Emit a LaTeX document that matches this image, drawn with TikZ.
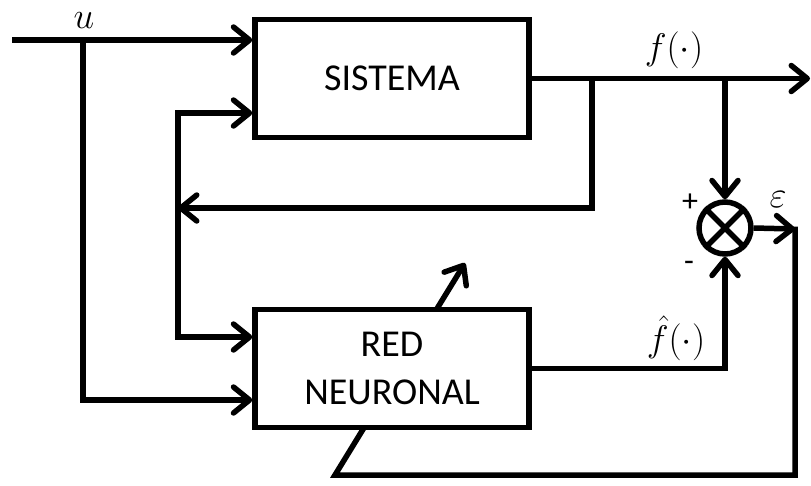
\RequirePackage{fix-cm}
\documentclass[tikz,border=0pt]{standalone}
\usepackage{fontspec}
\setmainfont{Carlito}
\usetikzlibrary{arrows.meta}
\tikzset{
  wire/.style={line width=5.5pt},
  arr/.style={wire, -{Straight Barb[length=16pt,width=26pt,line cap=round,line join=round]}},
  blockbox/.style={draw, line width=5.5pt, fill=white, minimum width=274pt, minimum height=118pt,
    inner sep=0pt, align=center, font=\fontsize{38}{48}\selectfont},
  sumnode/.style={draw, circle, line width=5.5pt, minimum size=52pt, inner sep=0pt},
  mlabel/.style={inner sep=0pt, font=\fontsize{37}{40}\selectfont},
  signlabel/.style={inner sep=0pt, font=\fontsize{32}{36}\selectfont},
}
\begin{document}
\begin{tikzpicture}[x=1pt,y=-1pt]
\useasboundingbox (0,0) rectangle (811,485);
% nodes
\node[blockbox] (sis) at (392,78.5) {SISTEMA};
\node[sumnode] (sum) at (725,228) {};
\draw[line width=5.5pt] (sum.north east) -- (sum.south west);
\draw[line width=5.5pt] (sum.north west) -- (sum.south east);
% coordinates
\coordinate (in) at (12,40);
\coordinate (ub) at (83,40);
\coordinate (uin) at (83,400);
\coordinate (out) at (810,78.5);
\coordinate (b1) at (592,78.5);
\coordinate (b2) at (725,78.5);
\coordinate (fbmid) at (178,208);
\coordinate (fbtop) at (178,113);
\coordinate (fbbot) at (178,337);
\coordinate (c1) at (795,229);
\coordinate (c1a) at (795,226.5);
\coordinate (c2) at (795,475);
\coordinate (c3) at (335,475);
\coordinate (c4) at (465,263);
% adaptation loop (drawn under the neural network block)
\draw[arr] (sum.east) -- (c1);
\draw[arr] (c1a) -- (c2) -- (c3) -- (c4);
\node[blockbox] (red) at (392,368.5) {RED\\NEURONAL};
% connectors
\draw[arr] (in) -- (sis.west |- in);
\draw[arr] (ub) -- (uin) -- (red.west |- uin);
\draw[arr] (sis.east) -- (out);
\draw[arr] (b2) -- (sum.north);
\draw[arr] (b1) -- (b1 |- fbmid) -- (fbmid);
\draw[arr] (fbmid) -- (fbtop) -- (sis.west |- fbtop);
\draw[arr] (fbmid) -- (fbbot) -- (red.west |- fbbot);
\draw[arr] (red.east) -| (sum.south);
% labels
\node[mlabel, anchor=base] (ulab) at (84,28) {$u$};
\node[mlabel, anchor=base] (flab) at (674,59) {$f(\cdot)$};
\node[mlabel, anchor=base] (fhlab) at (676,351) {$\hat{f}(\cdot)$};
\node[mlabel, anchor=base] (elab) at (778,207) {$\varepsilon$};
\node[signlabel] (plus) at (690,203) {+};
\node[signlabel] (minus) at (689,266) {-};
\end{tikzpicture}
\end{document}
